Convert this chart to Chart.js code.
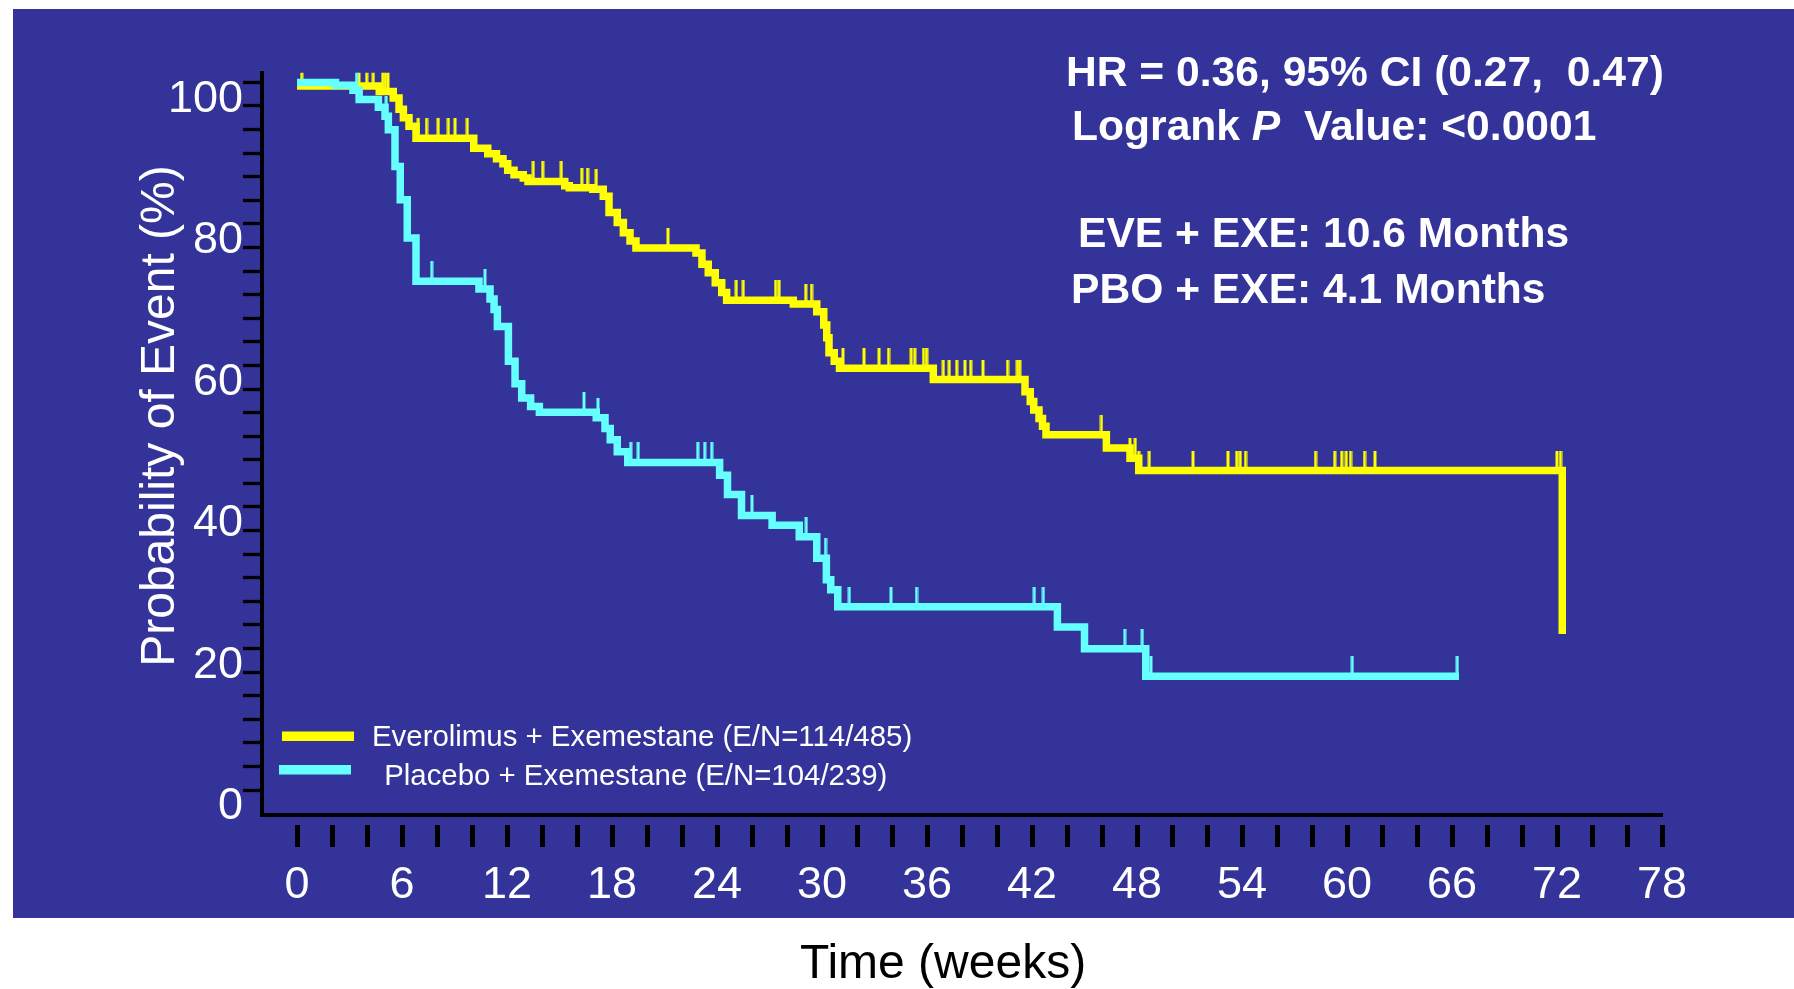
<!DOCTYPE html>
<html>
<head>
<meta charset="utf-8">
<title>Kaplan-Meier: Everolimus + Exemestane vs Placebo + Exemestane</title>
<script src="https://cdn.jsdelivr.net/npm/chart.js@4/dist/chart.umd.min.js"></script>
<style>
  html, body { margin: 0; padding: 0; background: #ffffff; }
  #wrap { width: 1794px; height: 989px; position: relative; }
</style>
</head>
<body>
<div id="wrap"><canvas id="km" width="1794" height="989"></canvas></div>
<script>
// ---- Data (weeks, % probability) ----
// Everolimus + Exemestane: step times and curve value after each step
const eveWeeks = [0, 4.7, 5.5, 5.83, 6.08, 6.4, 6.8, 10.1, 10.9, 11.4, 11.77, 12.04, 12.4, 12.93, 13.2, 15.3, 15.56, 16.9,
                  17.5, 17.83, 18.3, 18.65, 19.03, 19.37, 22.8, 23.14, 23.5, 23.9, 24.27, 24.55, 28.36, 29.7, 30.1,
                  30.27, 30.4, 30.7, 31.0, 36.36, 41.6, 41.9, 42.1, 42.4, 42.6, 42.8, 46.25, 47.6, 48.1, 72.3];
const eveProb  = [99.5, 98.7, 97.8, 96.2, 95.0, 93.8, 92.1, 90.7, 89.9, 89.2, 88.5, 87.6, 86.95, 86.5, 86.0, 85.4, 85.1, 84.9,
                  83.9, 81.6, 80.2, 78.75, 77.6, 76.6, 75.9, 74.3, 73.1, 71.7, 70.3, 69.2, 68.7, 67.6, 65.7,
                  63.9, 61.8, 60.6, 59.6, 58.0, 56.3, 54.9, 53.7, 52.5, 51.4, 50.2, 48.35, 46.9, 45.15, 22.05];
const eveCensored = [0.27, 3.54, 3.98, 4.36, 4.9, 5.05, 5.2, 6.93, 7.4, 8.07, 8.65, 9.03, 9.73, 13.5, 14.04, 15.1, 16.27,
                     16.6, 17.1, 21.2, 25.1, 25.5, 27.35, 27.55, 29.07, 29.4, 31.2, 32.4, 33.26, 33.8, 35.1, 35.3,
                     35.8, 35.98, 36.93, 37.27, 37.7, 38.17, 38.5, 39.2, 40.6, 41.16, 41.3, 45.97, 47.6, 47.9, 48.1,
                     48.7, 51.2, 53.2, 53.7, 53.9, 54.2, 58.2, 59.3, 59.7, 59.96, 60.2, 61.0, 61.6, 72.0, 72.2];

// Placebo + Exemestane
const pboWeeks = [0, 2.2, 3.2, 3.55, 4.65, 5.03, 5.22, 5.6, 5.9, 6.3, 6.8, 10.4, 11.03, 11.26, 11.45, 12.08, 12.46,
                  12.84, 13.35, 13.85, 17.1, 17.6, 17.9, 18.3, 18.9, 24.15, 24.6, 25.4, 27.15, 28.7, 29.7, 30.25,
                  30.5, 30.9, 43.45, 45.0, 48.5, 66.4];
const pboProb  = [100, 99.6, 98.9, 97.6, 96.5, 95.2, 93.3, 88.1, 83.4, 78.0, 71.9, 70.8, 69.4, 67.9, 65.5, 60.6, 57.4,
                  55.4, 54.2, 53.4, 52.6, 51.1, 49.5, 47.8, 46.3, 44.5, 41.75, 38.8, 37.4, 35.8, 32.75, 29.7,
                  28.3, 25.9, 23.05, 19.98, 16.07, 16.07];
const pboCensored = [3.4, 5.1, 7.7, 10.74, 16.4, 17.2, 19.07, 19.5, 22.9, 23.3, 23.7, 26.0, 29.1, 30.2, 31.56, 33.94,
                     35.4, 42.13, 42.65, 47.3, 48.3, 48.8, 60.3, 66.3];

// Axis ticks and labels
const xTickWeeks = [0, 2, 4, 6, 8, 10, 12, 14, 16, 18, 20, 22, 24, 26, 28, 30, 32, 34, 36, 38,
                    40, 42, 44, 46, 48, 50, 52, 54, 56, 58, 60, 62, 64, 66, 68, 70, 72, 74, 76, 78];
const xLabelEvery = 6;
const yLabelValues = [0, 20, 40, 60, 80, 100];
const yMinorPerLabel = 6;

const seriesNames = ['Everolimus + Exemestane (E/N=114/485)', ' Placebo + Exemestane (E/N=104/239)'];
const statLines = ['HR = 0.36, 95% CI (0.27,  0.47)', 'Logrank ', 'P', '  Value: <0.0001',
                   'EVE + EXE: 10.6 Months', 'PBO + EXE: 4.1 Months'];
const xTitle = 'Time (weeks)';
const yTitle = 'Probability of Event (%)';

// ---- Styles ----
const YELLOW = '#ffff00';
const CYAN = '#66ffff';
const PANEL = '#333399';
const FONT = '"Liberation Sans", Arial, Helvetica, sans-serif';

// Curve value just after time t (right-continuous step function)
function valueAt(weeks, prob, t) {
  let v = prob[0];
  for (let i = 0; i < weeks.length; i++) {
    if (weeks[i] <= t) v = prob[i]; else break;
  }
  return v;
}

function toPoints(weeks, prob) {
  return weeks.map((w, i) => ({ x: w, y: prob[i] }));
}
function censorPoints(times, weeks, prob) {
  return times.map(t => ({ x: t, y: valueAt(weeks, prob, t) }));
}

// Censoring mark: short vertical stroke rising from the curve
function censorGlyph(color) {
  const c = document.createElement('canvas');
  c.width = 4; c.height = 40;
  const g = c.getContext('2d');
  g.fillStyle = color;
  g.fillRect(0.5, 0, 3, 20);
  return c;
}

// Blue panel behind the plot
const panelPlugin = {
  id: 'panel',
  beforeDraw(chart) {
    const ctx = chart.ctx;
    ctx.save();
    ctx.fillStyle = PANEL;
    ctx.fillRect(13, 9, 1794 - 13, 918 - 9);
    ctx.restore();
  }
};

// Axis titles, statistics block and legend
const textPlugin = {
  id: 'texts',
  afterDraw(chart) {
    const ctx = chart.ctx;
    ctx.save();

    // Y title
    ctx.save();
    ctx.translate(161, 416);
    ctx.rotate(-Math.PI / 2);
    ctx.font = '48px ' + FONT;
    ctx.fillStyle = '#ffffff';
    ctx.textAlign = 'center';
    ctx.textBaseline = 'middle';
    ctx.fillText(yTitle, 0, 0);
    ctx.restore();

    // X title
    ctx.font = '48px ' + FONT;
    ctx.fillStyle = '#000000';
    ctx.textAlign = 'center';
    ctx.textBaseline = 'middle';
    ctx.fillText(xTitle, 943, 965);

    // Statistics
    ctx.fillStyle = '#ffffff';
    ctx.textAlign = 'left';
    ctx.textBaseline = 'alphabetic';
    const bold = 'bold 42.6px ' + FONT;
    const boldItalic = 'italic bold 42.6px ' + FONT;
    ctx.font = bold;
    ctx.fillText(statLines[0], 1066, 86);
    let x = 1072;
    ctx.fillText(statLines[1], x, 140);
    x += ctx.measureText(statLines[1]).width;
    ctx.font = boldItalic;
    ctx.fillText(statLines[2], x, 140);
    x += ctx.measureText(statLines[2]).width;
    ctx.font = bold;
    ctx.fillText(statLines[3], x, 140);
    ctx.fillText(statLines[4], 1078, 247);
    ctx.fillText(statLines[5], 1071, 303);

    // Legend (Everolimus first, Placebo second)
    const eve = chart.data.datasets.find(d => d.label === seriesNames[0]);
    const pbo = chart.data.datasets.find(d => d.label === seriesNames[1]);
    ctx.font = '29.4px ' + FONT;
    ctx.fillStyle = eve.borderColor;
    ctx.fillRect(282, 731.5, 72, 9.5);
    ctx.fillStyle = pbo.borderColor;
    ctx.fillRect(279, 765, 72, 9.5);
    ctx.fillStyle = '#ffffff';
    ctx.fillText(eve.label, 372, 745.5);
    ctx.fillText(pbo.label, 376, 785);

    ctx.restore();
  }
};

const ctx = document.getElementById('km').getContext('2d');
new Chart(ctx, {
  data: {
    datasets: [
      {
        type: 'line',
        label: seriesNames[1],
        data: toPoints(pboWeeks, pboProb),
        borderColor: CYAN,
        borderWidth: 7.5,
        stepped: true,
        pointRadius: 0,
        fill: false,
        borderCapStyle: 'butt',
        borderJoinStyle: 'miter',
        order: 1
      },
      {
        type: 'line',
        label: seriesNames[0],
        data: toPoints(eveWeeks, eveProb),
        borderColor: YELLOW,
        borderWidth: 7.5,
        stepped: true,
        pointRadius: 0,
        fill: false,
        borderCapStyle: 'butt',
        borderJoinStyle: 'miter',
        order: 3
      },
      {
        type: 'scatter',
        label: 'pbo-censored',
        data: censorPoints(pboCensored, pboWeeks, pboProb),
        pointStyle: censorGlyph(CYAN),
        pointRadius: 2,
        borderColor: CYAN,
        backgroundColor: CYAN,
        order: 0
      },
      {
        type: 'scatter',
        label: 'eve-censored',
        data: censorPoints(eveCensored, eveWeeks, eveProb),
        pointStyle: censorGlyph(YELLOW),
        pointRadius: 2,
        borderColor: YELLOW,
        backgroundColor: YELLOW,
        order: 2
      }
    ]
  },
  options: {
    responsive: false,
    animation: false,
    events: [],
    layout: { padding: { left: 0, top: 72.7, right: 132, bottom: 0 } },
    plugins: { legend: { display: false }, tooltip: { enabled: false }, title: { display: false } },
    scales: {
      x: {
        type: 'linear',
        min: -2,
        max: 78,
        afterFit(scale) { scale.height = 174; },
        afterBuildTicks(scale) { scale.ticks = xTickWeeks.map(v => ({ value: v })); },
        ticks: {
          autoSkip: false,
          maxRotation: 0,
          padding: 12,
          color: '#ffffff',
          font: { family: FONT, size: 45 },
          callback: (v) => (v % xLabelEvery === 0 ? String(v) : '')
        },
        grid: {
          drawOnChartArea: false,
          drawTicks: true,
          tickLength: 32,
          tickWidth: 5,
          tickColor: '#000000',
          tickBorderDash: [0, 8, 24, 60]
        },
        border: { display: true, color: '#000000', width: 4 }
      },
      y: {
        type: 'linear',
        min: -3.53,
        max: 101.37,
        afterFit(scale) { scale.width = 262; },
        afterBuildTicks(scale) {
          const top = yLabelValues[yLabelValues.length - 1];
          const n = (yLabelValues.length - 1) * yMinorPerLabel;
          const ticks = [];
          for (let i = 0; i <= n; i++) ticks.push({ value: (i * top) / n });
          scale.ticks = ticks;
        },
        ticks: {
          autoSkip: false,
          padding: 0,
          labelOffset: 17,
          color: '#ffffff',
          font: { family: FONT, size: 45 },
          callback: (v, i) => (i % yMinorPerLabel === 0 ? String(Math.round(v)) : '')
        },
        grid: {
          drawOnChartArea: false,
          drawTicks: true,
          tickLength: 19,
          tickWidth: 3.3,
          tickColor: '#000000'
        },
        border: { display: true, color: '#000000', width: 4 }
      }
    }
  },
  plugins: [panelPlugin, textPlugin]
});
</script>
</body>
</html>
